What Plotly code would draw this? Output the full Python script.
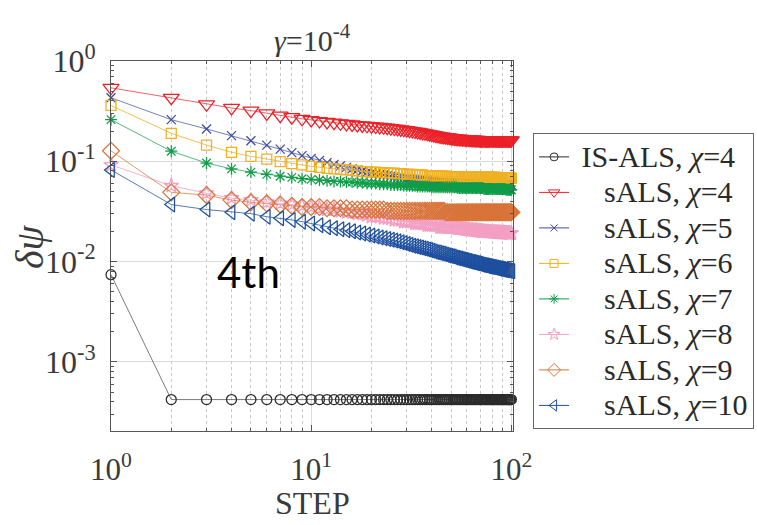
import plotly.graph_objects as go

steps = list(range(1, 101))

is_als_chi4 = [
    0.0074, 0.00042, 0.00042, 0.00042, 0.00042, 0.00042, 0.00042, 0.00042, 0.00042, 0.00042,
    0.00042, 0.00042, 0.00042, 0.00042, 0.00042, 0.00042, 0.00042, 0.00042, 0.00042, 0.00042,
    0.00042, 0.00042, 0.00042, 0.00042, 0.00042, 0.00042, 0.00042, 0.00042, 0.00042, 0.00042,
    0.00042, 0.00042, 0.00042, 0.00042, 0.00042, 0.00042, 0.00042, 0.00042, 0.00042, 0.00042,
    0.00042, 0.00042, 0.00042, 0.00042, 0.00042, 0.00042, 0.00042, 0.00042, 0.00042, 0.00042,
    0.00042, 0.00042, 0.00042, 0.00042, 0.00042, 0.00042, 0.00042, 0.00042, 0.00042, 0.00042,
    0.00042, 0.00042, 0.00042, 0.00042, 0.00042, 0.00042, 0.00042, 0.00042, 0.00042, 0.00042,
    0.00042, 0.00042, 0.00042, 0.00042, 0.00042, 0.00042, 0.00042, 0.00042, 0.00042, 0.00042,
    0.00042, 0.00042, 0.00042, 0.00042, 0.00042, 0.00042, 0.00042, 0.00042, 0.00042, 0.00042,
    0.00042, 0.00042, 0.00042, 0.00042, 0.00042, 0.00042, 0.00042, 0.00042, 0.00042, 0.00042,
]

sals_chi4 = [
    0.54, 0.43, 0.37, 0.34, 0.32, 0.30, 0.285, 0.275, 0.265, 0.258,
    0.252, 0.247, 0.243, 0.239, 0.236, 0.233, 0.230, 0.228, 0.226, 0.224,
    0.222, 0.220, 0.218, 0.216, 0.214, 0.212, 0.210, 0.208, 0.206, 0.204,
    0.202, 0.200, 0.198, 0.196, 0.194, 0.192, 0.190, 0.188, 0.186, 0.184,
    0.182, 0.180, 0.179, 0.177, 0.176, 0.175, 0.174, 0.173, 0.172, 0.171,
    0.170, 0.169, 0.168, 0.168, 0.167, 0.167, 0.166, 0.166, 0.165, 0.165,
    0.165, 0.164, 0.164, 0.164, 0.163, 0.163, 0.163, 0.163, 0.162, 0.162,
    0.162, 0.162, 0.162, 0.162, 0.162, 0.162, 0.162, 0.162, 0.162, 0.162,
    0.162, 0.162, 0.162, 0.162, 0.162, 0.162, 0.162, 0.162, 0.162, 0.162,
    0.162, 0.162, 0.162, 0.162, 0.162, 0.162, 0.162, 0.162, 0.162, 0.162,
]

sals_chi5 = [
    0.43, 0.26, 0.21, 0.18, 0.16, 0.145, 0.132, 0.122, 0.114, 0.107,
    0.102, 0.097, 0.093, 0.090, 0.087, 0.084, 0.082, 0.080, 0.078, 0.077,
    0.075, 0.074, 0.073, 0.072, 0.071, 0.070, 0.069, 0.069, 0.068, 0.067,
    0.067, 0.066, 0.066, 0.065, 0.065, 0.064, 0.064, 0.064, 0.063, 0.063,
    0.063, 0.062, 0.062, 0.062, 0.062, 0.061, 0.061, 0.061, 0.061, 0.061,
    0.060, 0.060, 0.060, 0.060, 0.060, 0.060, 0.060, 0.060, 0.060, 0.060,
    0.060, 0.060, 0.060, 0.060, 0.059, 0.059, 0.059, 0.059, 0.059, 0.059,
    0.059, 0.059, 0.059, 0.059, 0.059, 0.059, 0.059, 0.059, 0.059, 0.059,
    0.059, 0.059, 0.059, 0.058, 0.058, 0.058, 0.058, 0.058, 0.058, 0.058,
    0.058, 0.058, 0.058, 0.058, 0.058, 0.058, 0.058, 0.058, 0.058, 0.058,
]

sals_chi6 = [
    0.36, 0.19, 0.145, 0.123, 0.112, 0.105, 0.099, 0.095, 0.092, 0.089,
    0.087, 0.085, 0.084, 0.083, 0.082, 0.081, 0.080, 0.079, 0.079, 0.078,
    0.078, 0.077, 0.077, 0.076, 0.076, 0.076, 0.075, 0.075, 0.075, 0.074,
    0.074, 0.074, 0.073, 0.073, 0.073, 0.073, 0.072, 0.072, 0.072, 0.072,
    0.072, 0.071, 0.071, 0.071, 0.071, 0.071, 0.071, 0.070, 0.070, 0.070,
    0.070, 0.070, 0.070, 0.070, 0.070, 0.070, 0.070, 0.070, 0.070, 0.070,
    0.070, 0.070, 0.070, 0.069, 0.069, 0.069, 0.069, 0.069, 0.069, 0.069,
    0.069, 0.069, 0.069, 0.069, 0.069, 0.069, 0.069, 0.069, 0.069, 0.069,
    0.069, 0.069, 0.069, 0.069, 0.068, 0.068, 0.068, 0.068, 0.068, 0.068,
    0.068, 0.068, 0.068, 0.068, 0.068, 0.068, 0.068, 0.068, 0.068, 0.068,
]

sals_chi7 = [
    0.26, 0.126, 0.096, 0.084, 0.078, 0.074, 0.071, 0.069, 0.067, 0.066,
    0.065, 0.064, 0.063, 0.063, 0.062, 0.062, 0.061, 0.061, 0.060, 0.060,
    0.060, 0.059, 0.059, 0.059, 0.058, 0.058, 0.058, 0.058, 0.057, 0.057,
    0.057, 0.057, 0.057, 0.056, 0.056, 0.056, 0.056, 0.056, 0.056, 0.055,
    0.055, 0.055, 0.055, 0.055, 0.055, 0.055, 0.055, 0.055, 0.055, 0.055,
    0.055, 0.055, 0.055, 0.054, 0.054, 0.054, 0.054, 0.054, 0.054, 0.054,
    0.054, 0.054, 0.054, 0.054, 0.054, 0.054, 0.054, 0.054, 0.054, 0.054,
    0.054, 0.054, 0.053, 0.053, 0.053, 0.053, 0.053, 0.053, 0.053, 0.053,
    0.053, 0.053, 0.053, 0.053, 0.053, 0.053, 0.053, 0.053, 0.053, 0.053,
    0.053, 0.053, 0.053, 0.052, 0.052, 0.052, 0.052, 0.052, 0.052, 0.052,
]

sals_chi8 = [
    0.092, 0.057, 0.048, 0.043, 0.041, 0.039, 0.038, 0.037, 0.036, 0.035,
    0.034, 0.033, 0.033, 0.032, 0.031, 0.031, 0.030, 0.030, 0.029, 0.028,
    0.028, 0.028, 0.027, 0.027, 0.027, 0.026, 0.026, 0.026, 0.025, 0.025,
    0.025, 0.025, 0.024, 0.024, 0.024, 0.024, 0.024, 0.023, 0.023, 0.023,
    0.023, 0.023, 0.023, 0.022, 0.022, 0.022, 0.022, 0.022, 0.022, 0.022,
    0.0218, 0.0217, 0.0216, 0.0215, 0.0214, 0.0213, 0.0212, 0.0211, 0.0210, 0.0209,
    0.0208, 0.0207, 0.0206, 0.0206, 0.0205, 0.0204, 0.0204, 0.0203, 0.0202, 0.0202,
    0.0201, 0.0201, 0.0200, 0.0200, 0.0199, 0.0199, 0.0198, 0.0198, 0.0198, 0.0197,
    0.0197, 0.0197, 0.0196, 0.0196, 0.0196, 0.0195, 0.0195, 0.0195, 0.0194, 0.0194,
    0.0194, 0.0194, 0.0193, 0.0193, 0.0193, 0.0193, 0.0192, 0.0192, 0.0192, 0.0192,
]

sals_chi9 = [
    0.127, 0.049, 0.046, 0.041, 0.039, 0.038, 0.037, 0.036, 0.035, 0.035,
    0.035, 0.034, 0.034, 0.034, 0.034, 0.033, 0.033, 0.033, 0.033, 0.033,
    0.033, 0.033, 0.033, 0.032, 0.032, 0.032, 0.032, 0.032, 0.032, 0.032,
    0.032, 0.032, 0.032, 0.032, 0.032, 0.032, 0.032, 0.032, 0.032, 0.032,
    0.032, 0.032, 0.032, 0.032, 0.032, 0.032, 0.031, 0.031, 0.031, 0.031,
    0.031, 0.031, 0.031, 0.031, 0.031, 0.031, 0.031, 0.031, 0.031, 0.031,
    0.031, 0.031, 0.031, 0.031, 0.031, 0.031, 0.031, 0.031, 0.031, 0.031,
    0.031, 0.031, 0.031, 0.031, 0.031, 0.031, 0.031, 0.031, 0.031, 0.031,
    0.031, 0.031, 0.031, 0.031, 0.031, 0.031, 0.031, 0.031, 0.031, 0.031,
    0.031, 0.031, 0.031, 0.031, 0.031, 0.031, 0.031, 0.031, 0.031, 0.031,
]

sals_chi10 = [
    0.082, 0.037, 0.033, 0.031, 0.030, 0.028, 0.027, 0.026, 0.025, 0.024,
    0.023, 0.022, 0.0215, 0.021, 0.0205, 0.020, 0.0195, 0.019, 0.0186, 0.0182,
    0.0178, 0.0174, 0.0171, 0.0168, 0.0165, 0.0162, 0.0159, 0.0156, 0.0153, 0.0150,
    0.0147, 0.0144, 0.0142, 0.0140, 0.0138, 0.0136, 0.0134, 0.0132, 0.0130, 0.0128,
    0.0126, 0.0124, 0.0123, 0.0121, 0.0120, 0.0118, 0.0117, 0.0115, 0.0114, 0.0113,
    0.0112, 0.0110, 0.0109, 0.0108, 0.0107, 0.0106, 0.0105, 0.0104, 0.0103, 0.0102,
    0.0101, 0.0100, 0.0099, 0.0099, 0.0098, 0.0097, 0.0096, 0.0096, 0.0095, 0.0094,
    0.0093, 0.0093, 0.0092, 0.0092, 0.0091, 0.0090, 0.0090, 0.0089, 0.0089, 0.0088,
    0.0088, 0.0087, 0.0087, 0.0086, 0.0086, 0.0085, 0.0085, 0.0085, 0.0084, 0.0084,
    0.0083, 0.0083, 0.0083, 0.0082, 0.0082, 0.0082, 0.0081, 0.0081, 0.0081, 0.0080,
]

series_names = [
    "IS-ALS, <i>χ</i>=4",
    "sALS, <i>χ</i>=4",
    "sALS, <i>χ</i>=5",
    "sALS, <i>χ</i>=6",
    "sALS, <i>χ</i>=7",
    "sALS, <i>χ</i>=8",
    "sALS, <i>χ</i>=9",
    "sALS, <i>χ</i>=10",
]
series_values = [is_als_chi4, sals_chi4, sals_chi5, sals_chi6,
                 sals_chi7, sals_chi8, sals_chi9, sals_chi10]

x_tick_vals = [1, 10, 100]
x_tick_text = ["10<sup>0</sup>", "10<sup>1</sup>", "10<sup>2</sup>"]
y_tick_vals = [1e-3, 1e-2, 1e-1, 1]
y_tick_text = ["10<sup>-3</sup>", "10<sup>-2</sup>", "10<sup>-1</sup>", "10<sup>0</sup>"]

# marker colour, line colour, symbol, plot size, legend size
styles = [
    ("#2b2b2b", "rgba(90,90,90,0.8)", "circle-open", 10, 8),
    ("#ec2027", "rgba(236,32,39,0.7)", "triangle-down-open", 14, 10),
    ("#3d4aa0", "rgba(61,74,160,0.7)", "x-thin-open", 9, 7),
    ("#efb122", "rgba(239,177,34,0.8)", "square-open", 10, 8),
    ("#0f9d48", "rgba(15,157,72,0.7)", "asterisk-open", 10, 8),
    ("#f39fc3", "rgba(243,159,195,0.8)", "star-open", 11, 9),
    ("#d8743a", "rgba(216,116,58,0.75)", "diamond-open", 13, 10),
    ("#1f4f9f", "rgba(31,79,159,0.75)", "triangle-left-open", 13, 10),
]

SERIF = "Liberation Serif"
TXT = "#3a3a3a"
fig = go.Figure()

for name, vals, (mc, lc, sym, sz, lsz) in zip(series_names, series_values, styles):
    fig.add_trace(go.Scatter(
        x=steps, y=vals, mode="lines+markers",
        line=dict(color=lc, width=1),
        marker=dict(symbol=sym, size=sz, color=mc, line=dict(color=mc, width=1.25)),
        showlegend=False, cliponaxis=False,
    ))

# legend entries (no data drawn)
indent_first = "\u00a0"
indent_rest = "\u00a0" * 4
for i, (name, (mc, lc, sym, sz, lsz)) in enumerate(zip(series_names, styles)):
    label = (indent_first if i == 0 else indent_rest) + name
    label = f'<span style="font-size:30px">{label}</span>'
    fig.add_trace(go.Scatter(
        x=[None], y=[None], mode="lines+markers", name=label,
        line=dict(color=mc, width=1),
        marker=dict(symbol=sym, size=lsz, color=mc, line=dict(color=mc, width=1)),
    ))

x_minor = [2, 3, 4, 5, 6, 7, 8, 9, 20, 30, 40, 50, 60, 70, 80, 90]
y_minor = [v * m for v in (1e-4, 1e-3, 1e-2, 1e-1) for m in range(2, 10)]

fig.update_xaxes(
    type="log", range=[0, 2.008],
    showline=True, linecolor="#555", linewidth=1, mirror="allticks",
    ticks="inside", ticklen=6, tickcolor="#555",
    tickvals=x_tick_vals, ticktext=x_tick_text,
    tickfont=dict(family=SERIF, size=31, color=TXT),
    ticklabelstandoff=11,
    showgrid=True, gridcolor="#dadada", gridwidth=1, zeroline=False,
    minor=dict(tickvals=x_minor, ticks="inside", ticklen=3, tickcolor="#555",
               showgrid=True, gridcolor="#c8c8c8", griddash="3px,3px", gridwidth=1),
)
fig.update_yaxes(
    type="log", range=[-3.69, 0.0],
    showline=True, linecolor="#555", linewidth=1, mirror="allticks",
    ticks="inside", ticklen=6, tickcolor="#555",
    tickvals=y_tick_vals, ticktext=y_tick_text,
    tickfont=dict(family=SERIF, size=32, color=TXT),
    ticklabelstandoff=8,
    showgrid=True, gridcolor="#dadada", gridwidth=1, zeroline=False,
    minor=dict(tickvals=y_minor, ticks="inside", ticklen=3, tickcolor="#555",
               showgrid=False),
)

fig.update_layout(
    width=757, height=525,
    margin=dict(l=111, r=244, t=61, b=94, autoexpand=False),
    paper_bgcolor="white", plot_bgcolor="white",
    showlegend=True,
    legend=dict(
        x=1.05, y=0.805, xanchor="left", yanchor="top",
        bgcolor="white", bordercolor="#666", borderwidth=1,
        font=dict(family=SERIF, size=25, color="#2a2a2a"),
        itemwidth=30,
    ),
    annotations=[
        dict(text="<i>γ</i>=10<sup>-4</sup>", xref="paper", yref="paper",
             x=0.5, y=1.0, yshift=23, xanchor="center", yanchor="middle",
             showarrow=False, font=dict(family=SERIF, size=30, color=TXT)),
        dict(text="<i>δψ</i>", xref="paper", yref="paper",
             x=0, y=0.497, xshift=-82, textangle=-90, xanchor="center", yanchor="middle",
             showarrow=False, font=dict(family=SERIF, size=40, color=TXT)),
        dict(text="STEP", xref="paper", yref="paper",
             x=0.5, y=0, yshift=-72, xanchor="center", yanchor="middle",
             showarrow=False, font=dict(family=SERIF, size=32, color=TXT)),
        dict(text="4th", xref="paper", yref="paper",
             x=(248 - 111) / 402, y=(431 - 272) / 370, xanchor="center", yanchor="middle",
             showarrow=False, font=dict(family="Lato", size=42, color="black")),
    ],
)

fig.write_html("out.html")
